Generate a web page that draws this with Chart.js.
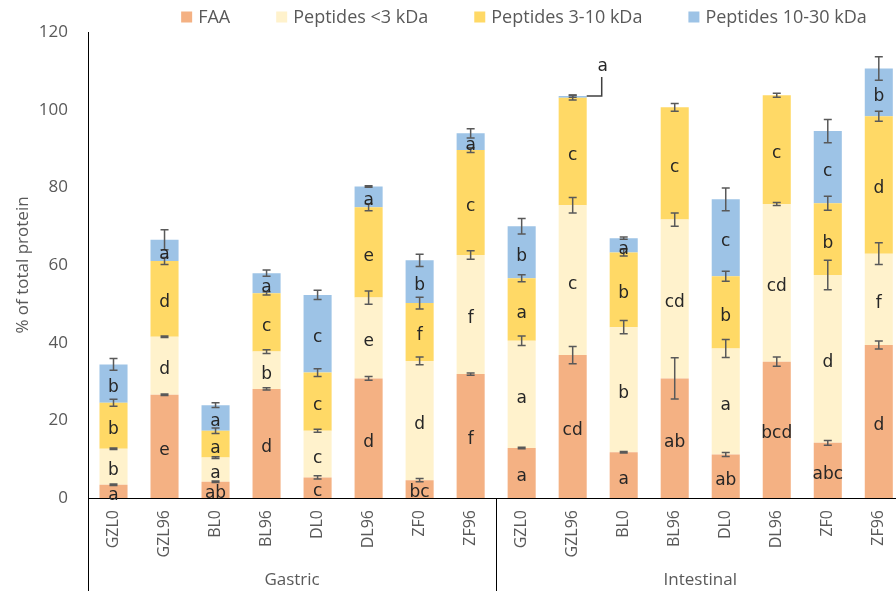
<!DOCTYPE html>
<html><head><meta charset="utf-8">
<script src="https://cdn.jsdelivr.net/npm/chart.js@4/dist/chart.umd.min.js"></script>
<style>html,body{margin:0;padding:0;overflow:hidden;background:#fff}#wrap{width:910px;height:591px;position:relative}</style>
</head><body><div id="wrap"><canvas id="c"></canvas></div>
<script>
// ---- data ----
const samples = ['GZL0','GZL96','BL0','BL96','DL0','DL96','ZF0','ZF96'];
const phases = ['Gastric','Intestinal'];
const categories = samples.concat(samples);
const seriesNames = ['FAA','Peptides <3 kDa','Peptides 3-10 kDa','Peptides 10-30 kDa'];
// segment values (% of total protein): gastric 8, then intestinal 8
const faa       = [3.4,26.6,4.2,28.1,5.3,30.8,4.6,31.9,  12.9,36.8,11.8,30.8,11.2,35.1,14.2,39.4];
const pepLt3    = [9.3,14.9,6.2,9.6,12.0,20.8,30.7,30.7, 27.6,38.6,32.2,40.9,27.3,40.6,43.2,23.5];
const pep3to10  = [11.8,19.5,6.9,15.0,15.0,23.3,14.9,27.0, 16.1,27.7,19.2,28.9,18.6,28.0,18.5,35.4];
const pep10to30 = [9.9,5.5,6.6,5.2,20.0,5.3,11.0,4.3,   13.4,0.4,3.7,0,19.8,0,18.6,12.3];
// error (± SD) at top of each segment
const errFaa       = [0.2,0.2,0.2,0.3,0.4,0.5,0.4,0.3,  0.2,2.2,0.2,5.3,0.5,1.2,0.6,1.0];
const errLt3       = [0.2,0.2,0.2,0.5,0.4,1.7,1.0,1.1,  1.2,2.0,1.7,1.7,2.3,0.4,3.8,2.8];
const err3to10     = [0.9,0.9,0.7,0.4,1.0,0.9,1.5,0.6,  0.9,0.6,0.9,1.0,1.3,0.5,1.8,1.3];
const err10to30    = [1.5,2.6,0.6,0.8,1.2,0.2,1.6,1.2,  2.0,0.3,0.3,null,2.9,null,3.0,3.0];
// significance letters
const letFaa    = ['a','e','ab','d','c','d','bc','f',  'a','cd','a','ab','ab','bcd','abc','d'];
const letLt3    = ['b','d','a','b','c','e','d','f',    'a','c','b','cd','a','cd','d','f'];
const let3to10  = ['b','d','a','c','c','e','f','c',    'a','c','b','c','b','c','b','d'];
const let10to30 = ['b','a','a','a','c','a','b','a',    'b','a','a',null,'c',null,'c','b'];

const colors = ['#F4B183','#FFF2CC','#FFD966','#9DC3E6'];
const values = [faa,pepLt3,pep3to10,pep10to30];
const errors = [errFaa,errLt3,err3to10,err10to30];
const letters = [letFaa,letLt3,let3to10,let10to30];

const FONT = '"Open Sans", "Noto Sans", sans-serif';
const GREY = '#595959';

const overlay = {
  id:'overlay',
  afterDatasetsDraw(chart){
    const ctx = chart.ctx, ys = chart.scales.y;
    ctx.save();
    // error bars
    ctx.strokeStyle = '#595959'; ctx.lineWidth = 1.5;
    chart.data.datasets.forEach((ds,di)=>{
      const meta = chart.getDatasetMeta(di);
      meta.data.forEach((bar,i)=>{
        const e = errors[di][i];
        if (e == null) return;
        let cum = 0; for (let k=0;k<=di;k++) cum += values[k][i];
        const yc = ys.getPixelForValue(cum);
        const d = ys.getPixelForValue(cum - e) - yc;
        const x = bar.x, c = 4;
        ctx.beginPath();
        ctx.moveTo(x, yc-d); ctx.lineTo(x, yc+d);
        ctx.moveTo(x-c, yc-d); ctx.lineTo(x+c, yc-d);
        ctx.moveTo(x-c, yc+d); ctx.lineTo(x+c, yc+d);
        ctx.stroke();
      });
    });
    // letters
    ctx.font = '17px "DejaVu Sans", sans-serif';
    ctx.fillStyle = '#262626'; ctx.textAlign = 'center'; ctx.textBaseline = 'middle';
    chart.data.datasets.forEach((ds,di)=>{
      const meta = chart.getDatasetMeta(di);
      meta.data.forEach((bar,i)=>{
        const L = letters[di][i];
        if (!L) return;
        const top = bar.y, base = bar.base;
        if (Math.abs(base-top) < 6) {
          const xr = bar.x + bar.width/2, xl = xr + 15;
          ctx.lineWidth = 1.5; ctx.strokeStyle = '#404040';
          ctx.beginPath(); ctx.moveTo(xr, top); ctx.lineTo(xl, top); ctx.lineTo(xl, top-19); ctx.stroke();
          ctx.fillText(L, xl+1, top-29);
        } else {
          ctx.fillText(L, bar.x, (top+base)/2 + 4);
        }
      });
    });
    ctx.restore();
  },
  afterDraw(chart){
    const ctx = chart.ctx, a = chart.chartArea;
    ctx.save();
    // divider lines in the category label area
    ctx.strokeStyle = '#000'; ctx.lineWidth = 1;
    [a.left, (a.left+a.right)/2, a.right].forEach(x=>{
      const xx = Math.round(x)+0.5;
      ctx.beginPath(); ctx.moveTo(xx, a.bottom); ctx.lineTo(xx, chart.height); ctx.stroke();
    });
    // group labels
    ctx.font = '17px ' + FONT; ctx.fillStyle = GREY; ctx.textAlign='center'; ctx.textBaseline='middle';
    const half = (a.right-a.left)/2;
    phases.forEach((p,k)=> ctx.fillText(p, a.left + half*k + half/2, 580));
    // legend
    ctx.font = '18px ' + FONT; ctx.textAlign='left';
    const box = 11, gap = 6, sp = 46;
    const widths = seriesNames.map(s=>ctx.measureText(s).width);
    const total = widths.reduce((s,w)=>s+box+gap+w,0) + sp*(seriesNames.length-1);
    let x = 524 - total/2; const yc = 17;
    seriesNames.forEach((s,k)=>{
      ctx.fillStyle = colors[k]; ctx.fillRect(x, yc-box/2, box, box);
      ctx.fillStyle = GREY; ctx.fillText(s, x+box+gap, yc+1);
      x += box+gap+widths[k]+sp;
    });
    ctx.restore();
  }
};

new Chart(document.getElementById('c'), {
  type:'bar',
  data:{
    labels: categories,
    datasets: seriesNames.map((n,k)=>({label:n, data:values[k], backgroundColor:colors[k], borderWidth:0,
      categoryPercentage:1, barPercentage:0.55}))
  },
  options:{
    responsive:true, maintainAspectRatio:false, animation:false,
    layout:{padding:{top:32,left:0,right:0,bottom:0}},
    plugins:{legend:{display:false}, tooltip:{enabled:false}},
    scales:{
      x:{stacked:true, grid:{display:false, drawTicks:false}, border:{display:true,color:'#000',width:1},
         ticks:{minRotation:90,maxRotation:90,autoSkip:false,padding:12,color:GREY,font:{size:16,family:FONT}},
         afterFit(s){ s.height = 93; }},
      y:{stacked:true, min:0, max:120, grid:{display:false, drawTicks:false}, border:{display:true,color:'#000',width:1},
         ticks:{stepSize:20,padding:20,color:GREY,font:{size:17,family:FONT}},
         title:{display:true,text:'% of total protein',color:GREY,font:{size:17,family:FONT},padding:{top:13,bottom:0}},
         afterFit(s){ s.width = 88; }}
    }
  },
  plugins:[overlay]
});
</script></body></html>
